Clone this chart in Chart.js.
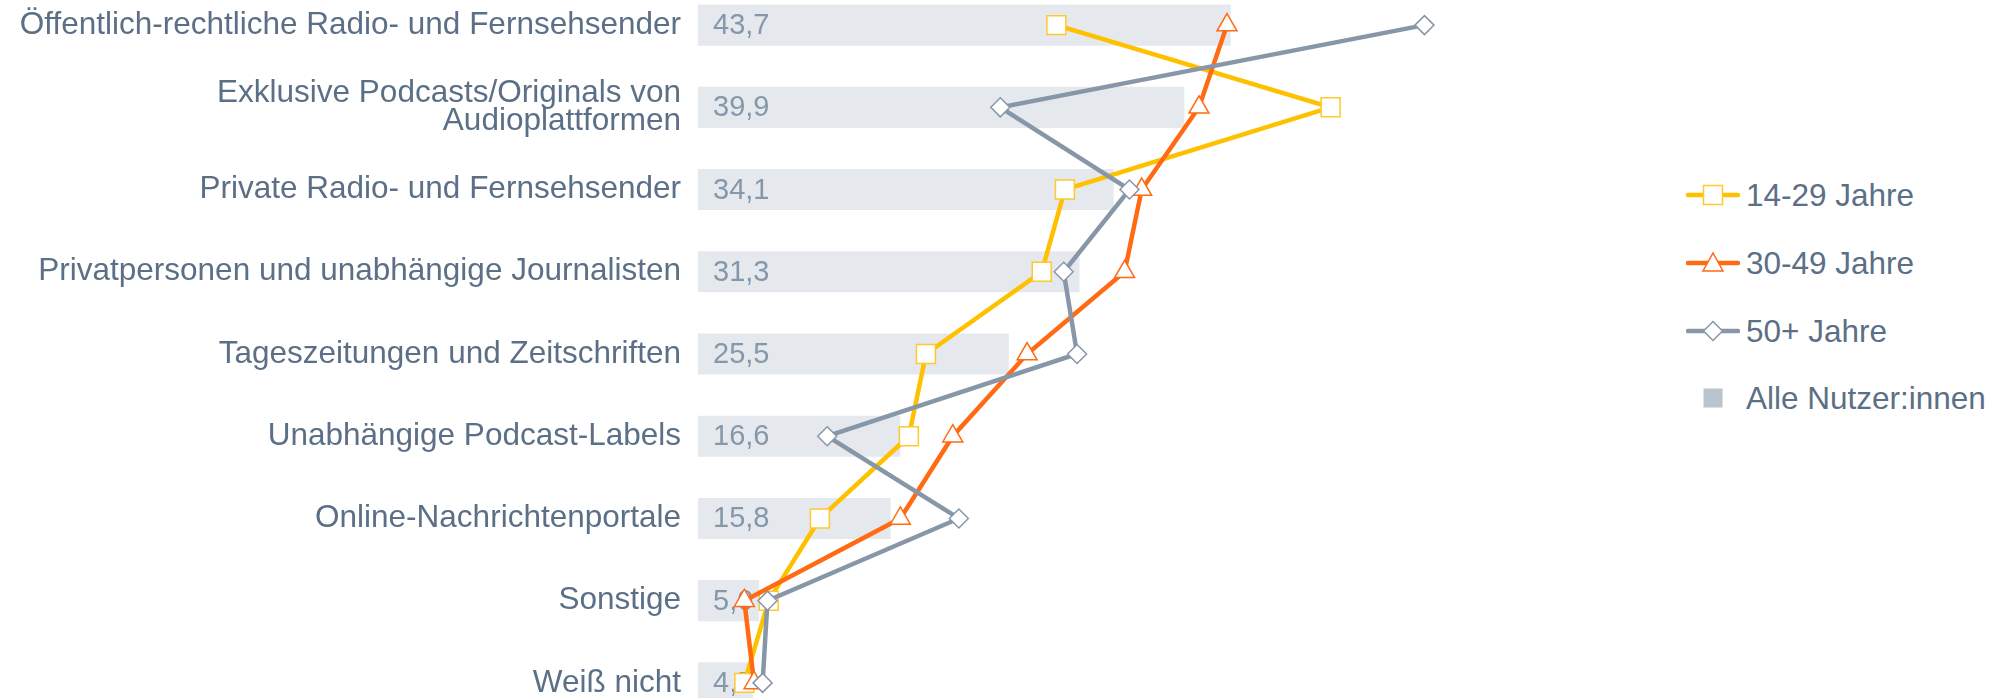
<!DOCTYPE html>
<html lang="de">
<head>
<meta charset="utf-8">
<script src="https://cdn.jsdelivr.net/npm/chart.js@4.4.1/dist/chart.umd.min.js"></script>
<style>
  html, body { margin: 0; padding: 0; background: #ffffff; width: 1992px; height: 698px; overflow: hidden; }
  #wrap { position: absolute; left: 0; top: -16px; width: 1600px; height: 740px; }
  .lg { position: absolute; left: 1686px; height: 40px; display: flex; align-items: center;
        font-family: "Liberation Sans", Arial, sans-serif; font-size: 31.5px; color: #5B6F86; white-space: nowrap; }
  .lg svg { margin-right: 6px; flex: none; }
</style>
</head>
<body>
<div id="wrap"><canvas id="c" width="1600" height="740"></canvas></div>
<div id="legend"></div>
<script>
const categories = [
  ['Öffentlich-rechtliche Radio- und Fernsehsender'],
  ['Exklusive Podcasts/Originals von', 'Audioplattformen'],
  ['Private Radio- und Fernsehsender'],
  ['Privatpersonen und unabhängige Journalisten'],
  ['Tageszeitungen und Zeitschriften'],
  ['Unabhängige Podcast-Labels'],
  ['Online-Nachrichtenportale'],
  ['Sonstige'],
  ['Weiß nicht']
];
const seriesNames = ['14-29 Jahre', '30-49 Jahre', '50+ Jahre', 'Alle Nutzer:innen'];
const allUsers = [43.7, 39.9, 34.1, 31.3, 25.5, 16.6, 15.8, 5.0, 4.5];
const age14to29 = [29.4, 51.9, 30.1, 28.2, 18.7, 17.3, 10.0, 5.8, 3.8];
const age30to49 = [43.4, 41.1, 36.4, 35.0, 27.0, 20.9, 16.6, 3.8, 4.6];
const age50plus = [59.6, 24.8, 35.4, 30.0, 31.1, 10.6, 21.4, 5.7, 5.3];

const FONT = '"Liberation Sans", Arial, sans-serif';
const TEXT = '#5B6F86';
const VALTEXT = '#8597AA';
const BAR = '#E5E9EE';
const YEL = '#FFC000', YEL_B = '#FFC82E';
const ORA = '#FF6A13';
const GRY = '#8797A8';

const valueLabels = {
  id: 'valueLabels',
  afterDatasetDraw(chart, args) {
    if (args.index !== 0) return;
    const ctx = chart.ctx;
    const meta = args.meta;
    ctx.save();
    ctx.font = '29px ' + FONT;
    ctx.fillStyle = VALTEXT;
    ctx.textAlign = 'left';
    ctx.textBaseline = 'middle';
    meta.data.forEach((el, i) => {
      const v = allUsers[i];
      ctx.fillText(v.toFixed(1).replace('.', ','), el.base + 15, el.y + 1);
    });
    ctx.restore();
  }
};

new Chart(document.getElementById('c'), {
  type: 'bar',
  data: {
    labels: categories,
    datasets: [
      { type: 'bar', label: seriesNames[3], data: allUsers, backgroundColor: BAR,
        barPercentage: 0.5, categoryPercentage: 1.0, order: 4 },
      { type: 'line', label: seriesNames[0], data: age14to29, borderColor: YEL, borderWidth: 4.5,
        pointStyle: 'rect', pointRadius: 13.4, pointBackgroundColor: '#ffffff', pointBorderColor: YEL_B,
        pointBorderWidth: 1.5, tension: 0, clip: false, order: 3 },
      { type: 'line', label: seriesNames[1], data: age30to49, borderColor: ORA, borderWidth: 4.5,
        pointStyle: 'triangle', pointRadius: 11.5, pointBackgroundColor: '#ffffff', pointBorderColor: ORA,
        pointBorderWidth: 1.5, tension: 0, clip: false, order: 2 },
      { type: 'line', label: seriesNames[2], data: age50plus, borderColor: GRY, borderWidth: 4.5,
        pointStyle: 'rectRot', pointRadius: 9.5, pointBackgroundColor: '#ffffff', pointBorderColor: GRY,
        pointBorderWidth: 1.5, tension: 0, clip: false, order: 1 }
    ]
  },
  options: {
    indexAxis: 'y',
    responsive: false,
    animation: false,
    devicePixelRatio: 1,
    layout: { padding: 0, autoPadding: false },
    plugins: { legend: { display: false }, tooltip: { enabled: false } },
    scales: {
      x: { display: false, min: 0, max: 74,
           afterFit(scale) { scale.paddingLeft = 0; scale.paddingRight = 0; scale.paddingTop = 0; scale.paddingBottom = 0; } },
      y: {
        grid: { display: false, drawTicks: false },
        border: { display: false },
        ticks: { color: TEXT, padding: 17, font: { family: FONT, size: 31.5, lineHeight: 0.9 } },
        afterFit(scale) {
          scale.width = 698;
          scale.paddingTop = 0; scale.paddingBottom = 0; scale.paddingLeft = 0; scale.paddingRight = 0;
        }
      }
    }
  },
  plugins: [valueLabels]
});

// Legend (HTML)
const legendItems = [
  { name: seriesNames[0], y: 195, svg: `<line x1="2" y1="20" x2="52" y2="20" stroke="${YEL}" stroke-width="4.5" stroke-linecap="round"/><rect x="17.5" y="10.5" width="19" height="19" fill="#fff" stroke="${YEL_B}" stroke-width="1.5"/>` },
  { name: seriesNames[1], y: 263, svg: `<line x1="2" y1="20" x2="52" y2="20" stroke="${ORA}" stroke-width="4.5" stroke-linecap="round"/><polygon points="27,10 37,28 17,28" fill="#fff" stroke="${ORA}" stroke-width="1.5"/>` },
  { name: seriesNames[2], y: 331, svg: `<line x1="2" y1="20" x2="52" y2="20" stroke="${GRY}" stroke-width="4.5" stroke-linecap="round"/><polygon points="27,10.5 36.5,20 27,29.5 17.5,20" fill="#fff" stroke="${GRY}" stroke-width="1.5"/>` },
  { name: seriesNames[3], y: 398, svg: `<rect x="17.5" y="10.5" width="19" height="19" fill="#B9C4CE"/>` }
];
const lg = document.getElementById('legend');
legendItems.forEach(it => {
  const d = document.createElement('div');
  d.className = 'lg';
  d.style.top = (it.y - 20) + 'px';
  d.innerHTML = `<svg width="54" height="40" viewBox="0 0 54 40">${it.svg}</svg><span>${it.name}</span>`;
  lg.appendChild(d);
});
</script>
</body>
</html>
